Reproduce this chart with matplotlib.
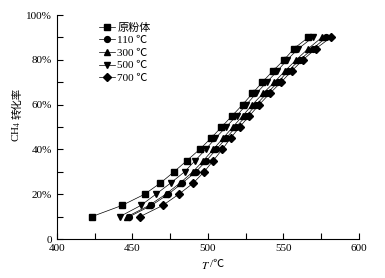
import matplotlib
matplotlib.use('Agg')
import matplotlib.pyplot as plt
import numpy as np
from matplotlib.ticker import MultipleLocator, FuncFormatter

plt.rcParams['font.family'] = ['Liberation Serif', 'Noto Sans CJK SC']
plt.rcParams['mathtext.fontset'] = 'stix'

# ---- data (conversion %, temperature in deg C) ----
conversion = [10, 15, 20, 25, 30, 35, 40, 45, 50, 55, 60, 65, 70, 75, 80, 85, 90]

t_raw = [423, 443, 458, 468.5, 477.5, 486, 494.5, 502, 509, 516, 523, 529.5, 536, 543, 550.5, 557, 566.5]
t_110 = [448, 462.5, 473.7, 483, 492, 499, 505.5, 512, 518.5, 525.5, 532, 539, 546.5, 553, 561, 569.5, 578.5]
t_300 = [446.5, 461, 472, 481.5, 490, 497, 503.5, 510, 516.5, 523, 529.5, 536.5, 544, 551, 558.5, 566.5, 575.5]
t_500 = [441.5, 455.5, 465.5, 475.3, 484.5, 491.5, 498.5, 505, 512, 519, 525.5, 532, 539, 546, 552.5, 560, 569.5]
t_700 = [455, 470, 480.7, 490.3, 497.5, 503.5, 509.5, 515, 521, 527.5, 534, 541, 548.5, 555.5, 563, 571.5, 581.5]

labels = ['原粉体', '110 ℃', '300 ℃', '500 ℃', '700 ℃']
markers = ['s', 'o', '^', 'v', 'D']
series = [t_raw, t_110, t_300, t_500, t_700]

fig = plt.figure(figsize=(3.85, 2.78), dpi=100)
ax = fig.add_axes([0.148, 0.140, 0.784, 0.806])

for temps, lab, mk in zip(series, labels, markers):
    ms = 3.6 if mk == 'D' else 4.2
    ax.plot(temps, conversion, color='black', lw=0.5, marker=mk, markersize=ms, label=lab)

ax.set_xlim(400, 600)
ax.set_ylim(0, 100)
ax.xaxis.set_major_locator(MultipleLocator(50))
ax.xaxis.set_minor_locator(MultipleLocator(25))
ax.yaxis.set_major_locator(MultipleLocator(20))
ax.yaxis.set_minor_locator(MultipleLocator(10))
ax.yaxis.set_major_formatter(FuncFormatter(lambda v, p: '0' if v == 0 else '%d%%' % v))

ax.spines['top'].set_visible(False)
ax.spines['right'].set_visible(False)
for s in ['left', 'bottom']:
    ax.spines[s].set_linewidth(0.8)
ax.tick_params(which='both', direction='in', labelsize=8, width=0.8, length=4)

# x label: italic T + "/℃" (mathtext can't fall back to CJK font for ℃)
ax.text(0.507, -0.095, '$T$', transform=ax.transAxes, ha='right', va='top', fontsize=8)
ax.text(0.507, -0.095, '/℃', transform=ax.transAxes, ha='left', va='top', fontsize=8)

# y label: "CH4" (mathtext) + "转化率" stacked along the rotated axis
ylab_x, ylab_y = -0.132, 0.527
ax.text(ylab_x, ylab_y, 'CH$_4$', transform=ax.transAxes, rotation=90,
        ha='center', va='top', fontsize=8)
ax.text(ylab_x, ylab_y + 0.01, '转化率', transform=ax.transAxes, rotation=90,
        ha='center', va='bottom', fontsize=7.5)

ax.legend(loc='upper left', bbox_to_anchor=(0.115, 1.0), frameon=False, fontsize=8,
          handlelength=1.4, handletextpad=0.2, labelspacing=0.25, borderpad=0.2)

plt.savefig('out.png', dpi=100)
